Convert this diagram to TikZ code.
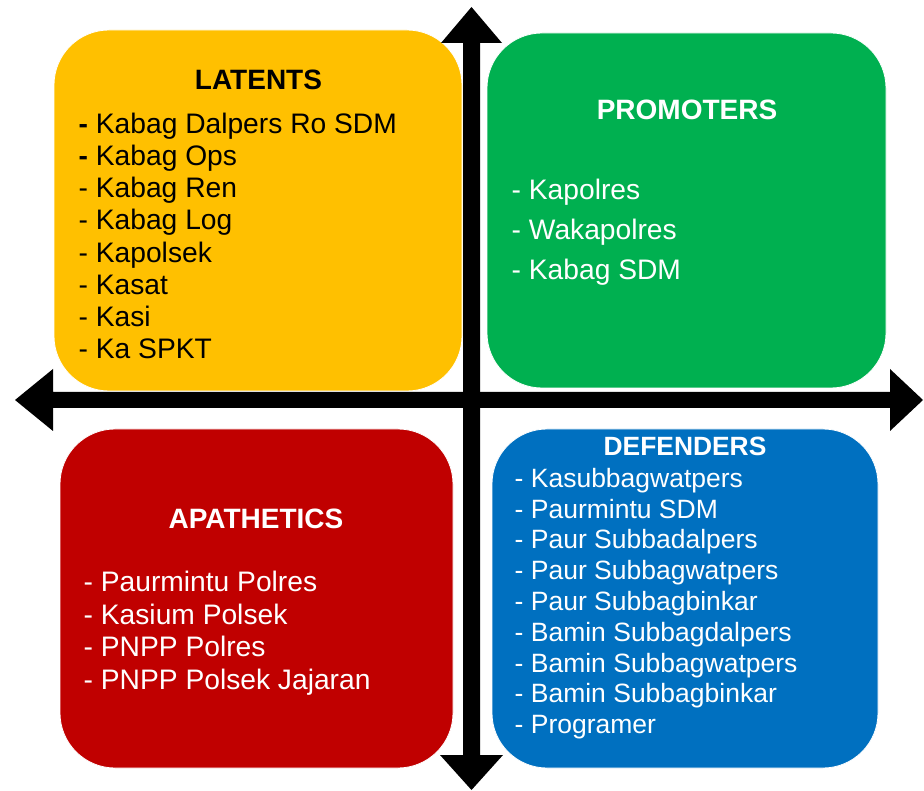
\documentclass[tikz,border=0pt]{standalone}
\usepackage{fontspec}
\setmainfont{Liberation Sans}
\definecolor{latc}{HTML}{FFC000}
\definecolor{proc}{HTML}{00B050}
\definecolor{apac}{HTML}{C00000}
\definecolor{defc}{HTML}{0070C0}
\tikzset{
  quad/.style={rounded corners=55pt, draw=white, line width=0.8pt},
  ttl/.style={inner sep=0pt, anchor=base, font=\bfseries\fontsize{28}{30}\selectfont},
  itm/.style={inner sep=0pt, anchor=base west, font=\fontsize{28.2}{30}\selectfont},
  dttl/.style={ttl, font=\bfseries\fontsize{26.4}{30}\selectfont},
  ditm/.style={itm, font=\fontsize{26.5}{30}\selectfont},
  axis/.style={fill=black}
}
\begin{document}
\begin{tikzpicture}[x=1pt,y=-1pt]
\useasboundingbox (0,0) rectangle (924,791);
% quadrant boxes
\filldraw[quad, fill=latc] (54,30) rectangle (462,391);
\filldraw[quad, fill=proc] (487,33) rectangle (886,388);
\filldraw[quad, fill=apac] (60,429) rectangle (453,768);
\filldraw[quad, fill=defc] (492,429) rectangle (878,768);
% LATENTS
\node[ttl] (lat-t) at (258.5,89.3) {LATENTS};
\node[itm] (lat-1) at (78.5,133.3) {\textbf{-} Kabag Dalpers Ro SDM};
\node[itm] (lat-2) at (78.5,165.5) {\textbf{-} Kabag Ops};
\foreach \t [count=\i from 3] in {Kabag Ren, Kabag Log, Kapolsek, Kasat, Kasi, Ka SPKT}
  \node[itm] (lat-\i) at (78.5,{133.3+32.2*(\i-1)}) {- \t};
% PROMOTERS
\node[ttl, white] (pro-t) at (687,119.3) {PROMOTERS};
\foreach \t [count=\i from 0] in {Kapolres, Wakapolres, Kabag SDM}
  \node[itm, white] (pro-\i) at (511.5,{200+40*\i}) {- \t};
% APATHETICS
\node[ttl, white] (apa-t) at (256,528.3) {APATHETICS};
\foreach \t [count=\i from 0] in {Paurmintu Polres, Kasium Polsek, PNPP Polres, PNPP Polsek Jajaran}
  \node[itm, white] (apa-\i) at (83.5,{591.7+32.5*\i}) {- \t};
% DEFENDERS
\node[dttl, white] (def-t) at (685,456) {DEFENDERS};
\foreach \t [count=\i from 0] in {Kasubbagwatpers, Paurmintu SDM, Paur Subbadalpers, Paur Subbagwatpers, Paur Subbagbinkar, Bamin Subbagdalpers, Bamin Subbagwatpers, Bamin Subbagbinkar, Programer}
  \node[ditm, white] (def-\i) at (514.5,{487.3+30.8*\i}) {- \t};
% axes
\fill[axis] (15,400) -- (53,369) -- (53,392) -- (890,392) -- (890,369) -- (923,400)
  -- (890,431) -- (890,408) -- (53,408) -- (53,431) -- cycle;
\fill[axis] (471.5,7) -- (502,43) -- (480,43) -- (480,755) -- (503,755) -- (471.5,790)
  -- (440,755) -- (463,755) -- (463,43) -- (441,43) -- cycle;
\end{tikzpicture}
\end{document}
